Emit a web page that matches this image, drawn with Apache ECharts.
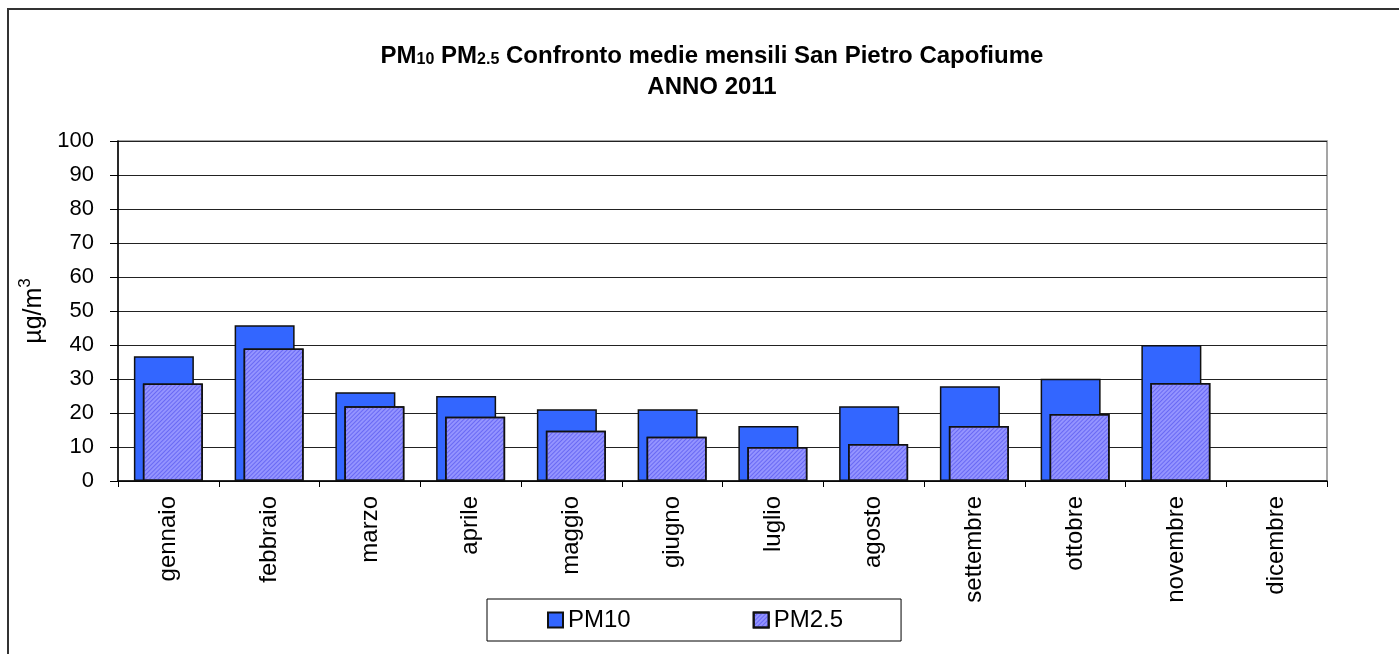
<!DOCTYPE html>
<html>
<head>
<meta charset="utf-8">
<script src="https://cdn.jsdelivr.net/npm/echarts@6/dist/echarts.min.js"></script>
<style>
html,body{margin:0;padding:0;background:#fff;}
#chart{width:1399px;height:654px;}
</style>
</head>
<body>
<div id="chart"></div>
<script>
var categories = ['gennaio','febbraio','marzo','aprile','maggio','giugno','luglio','agosto','settembre','ottobre','novembre','dicembre'];
var pm10 = [36.7, 45.8, 26.1, 25.0, 21.1, 21.1, 16.2, 22.0, 27.9, 30.1, 40.0, null];
var pm25 = [28.7, 39.0, 22.0, 18.9, 14.8, 13.0, 10.0, 10.9, 16.2, 19.7, 28.8, null];
var seriesNames = ['PM10', 'PM2.5'];

var FONT = '"Liberation Sans", Arial, sans-serif';
var chart = echarts.init(document.getElementById('chart'), null, {renderer:'canvas'});
chart.setOption({
  animation: false,
  backgroundColor: '#fff',
  textStyle: {fontFamily: FONT, color: '#000'},
  graphic: [{
    type: 'rect', z: -10, silent: true,
    shape: {x: 8, y: 9, width: 1500, height: 800},
    style: {fill: 'none', stroke: '#333', lineWidth: 2}
  }],
  title: [{
    text: '{t|PM}{s|10}{t| PM}{s|2.5}{t| Confronto medie mensili San Pietro Capofiume}',
    left: 707, top: 33, textAlign: 'center',
    textStyle: {
      rich: {
        t: {fontFamily: FONT, fontWeight: 'bold', fontSize: 24, color: '#000', verticalAlign: 'bottom', lineHeight: 30},
        s: {fontFamily: FONT, fontWeight: 'bold', fontSize: 16, color: '#000', verticalAlign: 'bottom', lineHeight: 25}
      }
    }
  }, {
    text: 'ANNO 2011',
    left: 707, top: 70, textAlign: 'center',
    textStyle: {fontFamily: FONT, fontWeight: 'bold', fontSize: 24, color: '#000'}
  }],
  legend: {
    data: seriesNames,
    icon: 'rect',
    left: 487, top: 599,
    padding: [9, 58, 9, 60],
    itemWidth: 15, itemHeight: 15, itemGap: 122,
    borderColor: '#000', borderWidth: 1,
    textStyle: {fontFamily: FONT, fontSize: 24, color: '#000'}
  },
  grid: {
    left: 118, right: 72, top: 141, bottom: 173,
    show: true, borderColor: '#888', borderWidth: 1.5, backgroundColor: 'transparent'
  },
  xAxis: {
    type: 'category',
    data: categories,
    boundaryGap: true,
    axisLine: {lineStyle: {color: '#000', width: 1.5}},
    axisTick: {show: true, length: 6, lineStyle: {color: '#000'}, alignWithLabel: false},
    axisLabel: {rotate: 90, margin: 15, fontFamily: FONT, fontSize: 24, color: '#000', interval: 0}
  },
  yAxis: {
    type: 'value', min: 0, max: 100, interval: 10,
    name: '{b|µg/m}{s|3}',
    nameLocation: 'middle', nameGap: 70,
    nameTextStyle: {
      rich: {
        b: {fontFamily: FONT, fontSize: 25, color: '#000', verticalAlign: 'bottom', lineHeight: 30},
        s: {fontFamily: FONT, fontSize: 17, color: '#000', verticalAlign: 'top', lineHeight: 30}
      }
    },
    axisLine: {show: true, lineStyle: {color: '#000', width: 1.5}},
    axisTick: {show: true, length: 8, lineStyle: {color: '#000'}},
    axisLabel: {margin: 24, fontFamily: FONT, fontSize: 22, color: '#000'},
    splitLine: {show: true, lineStyle: {color: '#222', width: 1.2}}
  },
  series: [{
    name: seriesNames[0], type: 'bar', data: pm10,
    barWidth: 60, barGap: '-85%',
    itemStyle: {color: '#3366FF', borderColor: '#111', borderWidth: 1.5}
  }, {
    name: seriesNames[1], type: 'bar', data: pm25,
    barWidth: 60,
    itemStyle: {
      color: '#9494FF', borderColor: '#111', borderWidth: 1.5,
      decal: {symbol: 'rect', symbolSize: 1, dashArrayX: [[1, 0]], dashArrayY: [1, 2], rotation: -Math.PI / 4, color: 'rgba(70,70,235,0.55)'}
    }
  }]
});
</script>
</body>
</html>
